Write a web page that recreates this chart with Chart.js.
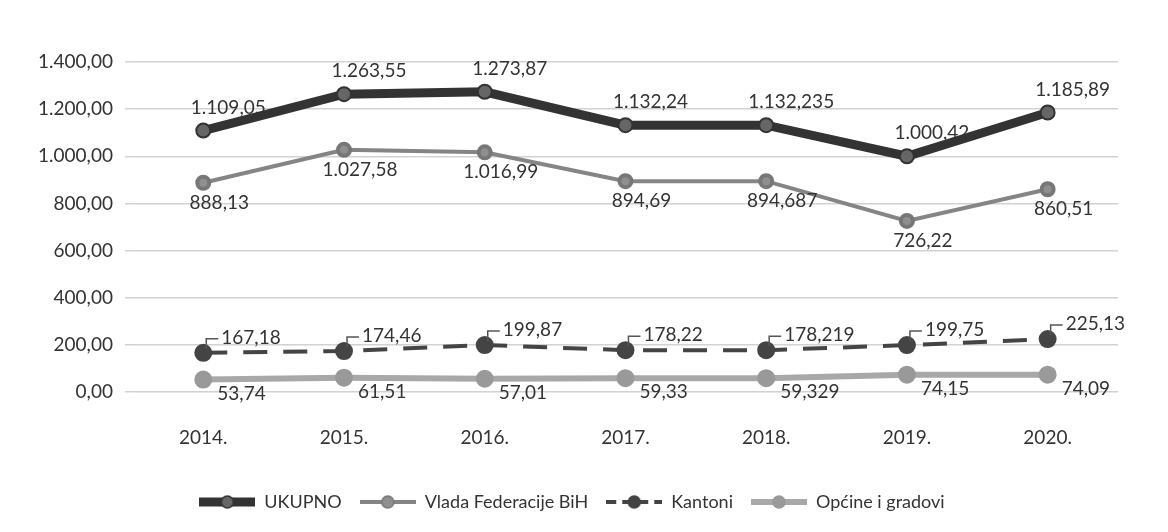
<!DOCTYPE html>
<html>
<head>
<meta charset="utf-8">
<script src="https://cdn.jsdelivr.net/npm/chart.js@4/dist/chart.umd.min.js"></script>
<style>
  html, body { margin: 0; padding: 0; background: #fff; }
  .chartbox { width: 1168px; height: 532px; }
</style>
</head>
<body>
<div class="chartbox"><canvas id="myChart"></canvas></div>
<script>
const years = ['2014.', '2015.', '2016.', '2017.', '2018.', '2019.', '2020.'];
const ukupno = [1109.05, 1263.55, 1273.87, 1132.24, 1132.235, 1000.42, 1185.89];
const vlada = [888.13, 1027.58, 1016.99, 894.69, 894.687, 726.22, 860.51];
const kantoni = [167.18, 174.46, 199.87, 178.22, 178.219, 199.75, 225.13];
const opcine = [53.74, 61.51, 57.01, 59.33, 59.329, 74.15, 74.09];
const yTicks = [0, 200, 400, 600, 800, 1000, 1200, 1400];

const FONT = 'Lato, "Open Sans", sans-serif';

// format like 1.263,55 (keeps the decimals as written)
function fmt(v, dec) {
  let s = v.toFixed(dec);
  let parts = s.split('.');
  let int = parts[0].replace(/\B(?=(\d{3})+(?!\d))/g, '.');
  return parts.length > 1 ? int + ',' + parts[1] : int;
}
function decimals(v) {
  let s = String(v);
  return s.includes('.') ? s.split('.')[1].length : 0;
}

// small line + marker picture for the legend
function legendIcon(ds) {
  const c = document.createElement('canvas');
  c.width = 56;
  c.height = 16;
  const g = c.getContext('2d');
  g.strokeStyle = ds.borderColor;
  g.lineWidth = ds.borderWidth;
  g.setLineDash(ds.borderDash ? [10, 6] : []);
  g.beginPath();
  g.moveTo(0, 8);
  g.lineTo(56, 8);
  g.stroke();
  g.setLineDash([]);
  g.fillStyle = ds.pointBackgroundColor;
  g.strokeStyle = ds.pointBorderColor;
  g.lineWidth = 1.5;
  g.beginPath();
  g.arc(28, 8, 6, 0, Math.PI * 2);
  g.fill();
  g.stroke();
  return c;
}

const labelPlugin = {
  id: 'valueLabels',
  afterDatasetsDraw(chart) {
    const ctx = chart.ctx;
    ctx.save();
    ctx.font = '19px ' + FONT;
    ctx.fillStyle = '#333';
    chart.data.datasets.forEach((ds, di) => {
      const meta = chart.getDatasetMeta(di);
      meta.data.forEach((pt, i) => {
        const v = ds.data[i];
        const txt = fmt(v, Math.max(2, decimals(v)));
        const off = ds.labelOffset;
        ctx.textAlign = off.align;
        ctx.textBaseline = 'middle';
        ctx.fillText(txt, pt.x + off.dx, pt.y + off.dy);
        if (off.leader) {
          ctx.strokeStyle = '#555';
          ctx.lineWidth = 1.5;
          ctx.beginPath();
          ctx.moveTo(pt.x + 3, pt.y - 4);
          ctx.lineTo(pt.x + 3, pt.y - 14);
          ctx.lineTo(pt.x + off.dx - 3, pt.y - 14);
          ctx.stroke();
        }
      });
    });
    ctx.restore();
  }
};

const ctx = document.getElementById('myChart');
new Chart(ctx, {
  type: 'line',
  data: {
    labels: years,
    datasets: [
      {
        label: 'UKUPNO',
        data: ukupno,
        borderColor: '#333',
        backgroundColor: '#333',
        borderWidth: 9,
        pointRadius: 7,
        pointBackgroundColor: '#666',
        pointBorderColor: '#333',
        pointBorderWidth: 2,
        labelOffset: { dx: 25, dy: -23, align: 'center' },
      },
      {
        label: 'Vlada Federacije BiH',
        data: vlada,
        borderColor: '#858585',
        backgroundColor: '#858585',
        borderWidth: 4,
        pointRadius: 6,
        pointBackgroundColor: '#8f8f8f',
        pointBorderColor: '#777',
        labelOffset: { dx: 16, dy: 20, align: 'center' },
      },
      {
        label: 'Kantoni',
        data: kantoni,
        borderColor: '#444',
        backgroundColor: '#444',
        borderWidth: 4,
        borderDash: [24, 16],
        pointRadius: 7,
        pointBackgroundColor: '#444',
        pointBorderColor: '#444',
        labelOffset: { dx: 18, dy: -15, align: 'left', leader: true },
      },
      {
        label: 'Općine i gradovi',
        data: opcine,
        borderColor: '#a8a8a8',
        backgroundColor: '#a8a8a8',
        borderWidth: 6,
        pointRadius: 6,
        pointBackgroundColor: '#9a9a9a',
        pointBorderColor: '#999',
        labelOffset: { dx: 14, dy: 14, align: 'left' },
      },
    ],
  },
  options: {
    responsive: true,
    maintainAspectRatio: false,
    animation: false,
    layout: { padding: { top: 62, right: 50, left: 26, bottom: 11 } },
    plugins: {
      legend: {
        position: 'bottom',
        labels: {
          color: '#333',
          font: { family: FONT, size: 18 },
          usePointStyle: true,
          pointStyleWidth: 56,
          padding: 18,
          generateLabels: (chart) => {
            const items = Chart.defaults.plugins.legend.labels.generateLabels(chart);
            items.forEach((it) => {
              it.pointStyle = legendIcon(chart.data.datasets[it.datasetIndex]);
            });
            return items;
          },
        },
      },
      tooltip: { enabled: false },
    },
    scales: {
      x: {
        offset: true,
        grid: { display: false },
        border: { display: false },
        ticks: {
          color: '#333',
          font: { family: FONT, size: 19 },
          padding: 26,
        },
      },
      y: {
        min: 0,
        max: 1400,
        afterBuildTicks: (axis) => {
          axis.ticks = yTicks.map((v) => ({ value: v }));
        },
        grid: { color: '#d2d2d2', lineWidth: 1.5 },
        border: { display: false },
        ticks: {
          color: '#333',
          font: { family: FONT, size: 19 },
          padding: 12,
          callback: (v) => fmt(v, 2),
        },
      },
    },
  },
  plugins: [labelPlugin],
});
</script>
</body>
</html>
